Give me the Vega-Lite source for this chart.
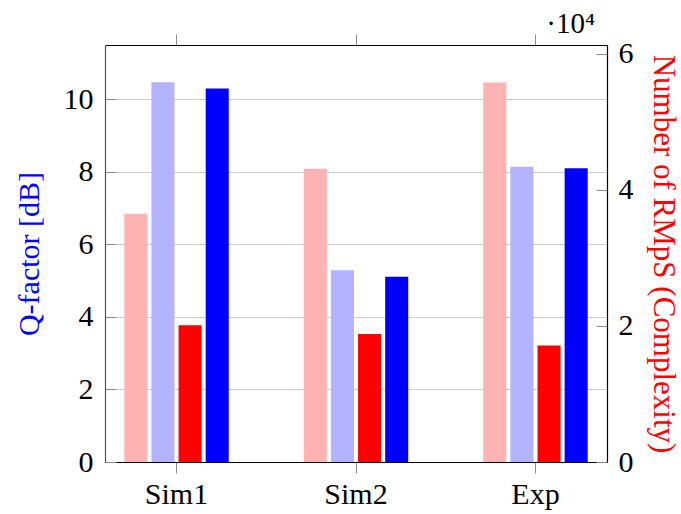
{
  "$schema": "https://vega.github.io/schema/vega-lite/v6.json",
  "autosize": {"type": "none"},
  "padding": {"left": 105, "top": 45, "right": 74, "bottom": 52},
  "width": 502,
  "height": 417,
  "background": "white",
  "title": {
    "text": "·10⁴",
    "orient": "top",
    "anchor": "end",
    "frame": "group",
    "font": "Liberation Serif",
    "fontSize": 29,
    "fontWeight": "normal",
    "color": "black",
    "dx": -12,
    "offset": -5
  },
  "config": {
    "view": {"stroke": null},
    "axis": {
      "labelFont": "Liberation Serif",
      "titleFont": "Liberation Serif",
      "labelFontSize": 30,
      "titleFontSize": 30,
      "titleFontWeight": "normal",
      "labelColor": "black",
      "tickColor": "#8a8a8a",
      "tickWidth": 1,
      "domainColor": "black",
      "domainWidth": 1.2
    }
  },
  "data": {
    "values": [
      {"group": "Sim1", "series": "RMpS A", "kind": "complexity", "value": 36500},
      {"group": "Sim1", "series": "Q A", "kind": "q", "value": 10.47},
      {"group": "Sim1", "series": "RMpS B", "kind": "complexity", "value": 20100},
      {"group": "Sim1", "series": "Q B", "kind": "q", "value": 10.30},
      {"group": "Sim2", "series": "RMpS A", "kind": "complexity", "value": 43100},
      {"group": "Sim2", "series": "Q A", "kind": "q", "value": 5.29},
      {"group": "Sim2", "series": "RMpS B", "kind": "complexity", "value": 18800},
      {"group": "Sim2", "series": "Q B", "kind": "q", "value": 5.11},
      {"group": "Exp", "series": "RMpS A", "kind": "complexity", "value": 55800},
      {"group": "Exp", "series": "Q A", "kind": "q", "value": 8.14},
      {"group": "Exp", "series": "RMpS B", "kind": "complexity", "value": 17140},
      {"group": "Exp", "series": "Q B", "kind": "q", "value": 8.10}
    ]
  },
  "layer": [
    {
      "transform": [{"filter": "datum.kind === 'q'"}],
      "mark": {"type": "bar"},
      "encoding": {
        "x": {
          "field": "group", "type": "nominal", "sort": ["Sim1", "Sim2", "Exp"],
          "scale": {"paddingInner": 0.418, "paddingOuter": 0.1075},
          "axis": {"orient": "bottom", "title": null, "labelAngle": 0, "tickSize": 11, "labelPadding": 6, "domainColor": "black"}
        },
        "xOffset": {
          "field": "series", "type": "nominal",
          "scale": {"domain": ["RMpS A", "Q A", "RMpS B", "Q B"], "paddingInner": 0.15, "paddingOuter": 0}
        },
        "y": {
          "field": "value", "type": "quantitative",
          "scale": {"domain": [0, 11.5], "nice": false, "zero": true},
          "axis": {
            "orient": "left", "title": "Q-factor [dB]", "titleColor": "blue",
            "values": [0, 2, 4, 6, 8, 10], "grid": true, "gridColor": "#cccccc", "gridWidth": 1,
            "tickSize": -11, "labelPadding": 23, "titlePadding": 19, "domainColor": "#555555"
          }
        },
        "color": {
          "field": "series", "type": "nominal",
          "scale": {"domain": ["RMpS A", "Q A", "RMpS B", "Q B"], "range": ["#ffb3b3", "#b3b3ff", "#ff0000", "#0000ff"]},
          "legend": null
        }
      }
    },
    {
      "transform": [{"filter": "datum.kind === 'complexity'"}],
      "mark": {"type": "bar"},
      "encoding": {
        "x": {
          "field": "group", "type": "nominal", "sort": ["Sim1", "Sim2", "Exp"],
          "scale": {"paddingInner": 0.418, "paddingOuter": 0.1075},
          "axis": {"orient": "top", "title": null, "labels": false, "tickSize": 11, "domainColor": "black"}
        },
        "xOffset": {
          "field": "series", "type": "nominal",
          "scale": {"domain": ["RMpS A", "Q A", "RMpS B", "Q B"], "paddingInner": 0.15, "paddingOuter": 0}
        },
        "y": {
          "field": "value", "type": "quantitative",
          "scale": {"domain": [0, 61300], "nice": false, "zero": true},
          "axis": {
            "orient": "right", "title": "Number of RMpS (Complexity)", "titleColor": "red", "titleFontSize": 31,
            "values": [0, 20000, 40000, 60000], "labelExpr": "datum.value / 10000",
            "grid": false, "tickSize": -11, "labelPadding": 22, "titlePadding": 13
          }
        },
        "color": {
          "field": "series", "type": "nominal",
          "scale": {"domain": ["RMpS A", "Q A", "RMpS B", "Q B"], "range": ["#ffb3b3", "#b3b3ff", "#ff0000", "#0000ff"]},
          "legend": null
        }
      }
    }
  ],
  "resolve": {"scale": {"y": "independent"}, "axis": {"x": "independent"}}
}
